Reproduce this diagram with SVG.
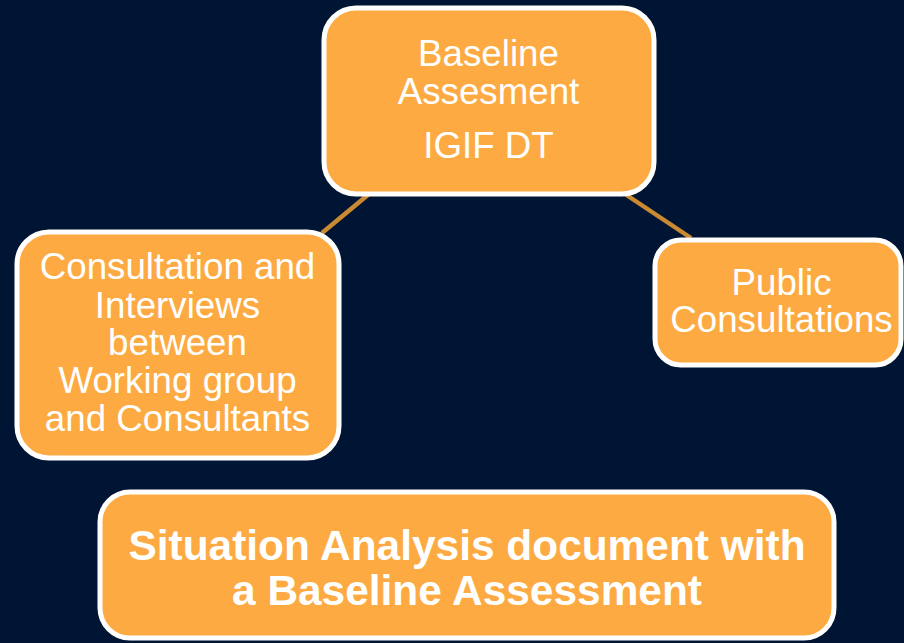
<svg xmlns="http://www.w3.org/2000/svg" width="904" height="643" viewBox="0 0 904 643">
<style>
.box{fill:#FEAA42;stroke:#FFFFFF;stroke-width:5}
.t{font-family:"Liberation Sans",Arial,sans-serif;font-size:36px;fill:#FFFFFF;text-anchor:middle}
.b{font-family:"Liberation Sans",Arial,sans-serif;font-size:42px;font-weight:bold;fill:#FFFFFF;text-anchor:middle}
.c{stroke:#C98A32;stroke-width:4.5;fill:none}
</style>
<rect width="904" height="643" fill="#001433"/>
<g id="connectors">
<line class="c" x1="369" y1="194" x2="322" y2="233"/>
<line class="c" x1="625" y1="194" x2="691" y2="238"/>
</g>
<g id="node-baseline">
<rect class="box" x="324" y="8" width="330" height="186" rx="32"/>
<g transform="translate(488.5 0) scale(1.02 1)">
<text class="t" x="0" y="66.5">Baseline</text>
<text class="t" x="0" y="104.5">Assesment</text>
<text class="t" x="0" y="158">IGIF DT</text>
</g>
</g>
<g id="node-consultation">
<rect class="box" x="17" y="232" width="322" height="226" rx="32"/>
<g transform="translate(177.5 0) scale(1.02 1)">
<text class="t" x="0" y="279.5">Consultation and</text>
<text class="t" x="0" y="318">Interviews</text>
<text class="t" x="0" y="355.5">between</text>
<text class="t" x="0" y="393.5">Working group</text>
<text class="t" x="0" y="431.5">and Consultants</text>
</g>
</g>
<g id="node-public">
<rect class="box" x="655" y="240" width="246" height="125" rx="26"/>
<g transform="translate(781.5 0) scale(1.02 1)">
<text class="t" x="0" y="295.5">Public</text>
<text class="t" x="0" y="332">Consultations</text>
</g>
</g>
<g id="node-situation">
<rect class="box" x="100" y="492" width="734" height="146" rx="30"/>
<g transform="translate(467 0) scale(1.01 1)">
<text class="b" x="0" y="560">Situation Analysis document with</text>
<text class="b" x="0" y="605">a Baseline Assessment</text>
</g>
</g>
</svg>
